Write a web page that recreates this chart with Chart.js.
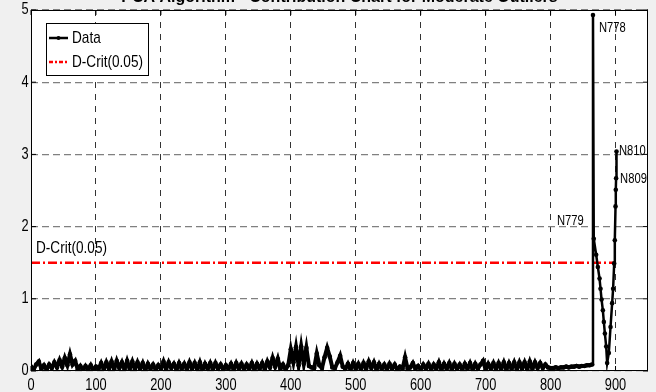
<!DOCTYPE html>
<html>
<head>
<meta charset="utf-8">
<title>PCA Algorithm - Contribution Chart for Moderate Outliers</title>
<style>
  html, body { margin: 0; padding: 0; background: #f0f0f0; }
  #wrap { width: 656px; height: 392px; position: relative; }
  canvas { display: block; }
</style>
<script src="https://cdn.jsdelivr.net/npm/chart.js@4.4.0/dist/chart.umd.min.js"></script>
</head>
<body>
<div id="wrap"><canvas id="chart" width="656" height="392"></canvas></div>
<script>
// Contribution values of the in-control observations, sampled every 4 observations (x = 0, 4, 8, ... 864)
const lowStep = 4;
const lowValues = [
  0.06, 0.02, 0.09, 0.13, 0.03, 0.08, 0.02, 0.09, 0.04, 0.12,
  0.05, 0.15, 0.06, 0.18, 0.08, 0.23, 0.09, 0.14, 0.02, 0.07,
  0.01, 0.07, 0.02, 0.08, 0.01, 0.06, 0.03, 0.11, 0.02, 0.12,
  0.03, 0.13, 0.02, 0.14, 0.04, 0.12, 0.02, 0.14, 0.03, 0.13,
  0.02, 0.12, 0.03, 0.11, 0.01, 0.10, 0.03, 0.09, 0.02, 0.08,
  0.03, 0.13, 0.02, 0.12, 0.04, 0.10, 0.02, 0.11, 0.03, 0.10,
  0.02, 0.12, 0.03, 0.11, 0.02, 0.12, 0.01, 0.10, 0.03, 0.11,
  0.02, 0.11, 0.03, 0.09, 0.02, 0.08, 0.03, 0.10, 0.02, 0.11,
  0.03, 0.10, 0.02, 0.09, 0.03, 0.11, 0.02, 0.10, 0.03, 0.11,
  0.02, 0.13, 0.05, 0.18, 0.06, 0.17, 0.03, 0.09, 0.02, 0.08,
  0.30, 0.12, 0.33, 0.08, 0.34, 0.10, 0.32, 0.07, 0.05, 0.04,
  0.24, 0.08, 0.04, 0.19, 0.32, 0.20, 0.05, 0.04, 0.12, 0.21,
  0.06, 0.03, 0.10, 0.02, 0.11, 0.03, 0.10, 0.02, 0.11, 0.03,
  0.13, 0.04, 0.12, 0.02, 0.10, 0.03, 0.09, 0.02, 0.10, 0.03,
  0.09, 0.02, 0.06, 0.03, 0.19, 0.03, 0.05, 0.11, 0.03, 0.07,
  0.02, 0.09, 0.03, 0.10, 0.02, 0.09, 0.03, 0.12, 0.02, 0.10,
  0.03, 0.11, 0.02, 0.10, 0.03, 0.09, 0.02, 0.10, 0.03, 0.11,
  0.02, 0.10, 0.03, 0.09, 0.14, 0.02, 0.10, 0.03, 0.11, 0.02,
  0.11, 0.03, 0.12, 0.02, 0.11, 0.03, 0.12, 0.02, 0.12, 0.03,
  0.12, 0.02, 0.13, 0.03, 0.12, 0.04, 0.11, 0.04, 0.09, 0.05,
  0.04, 0.04, 0.05, 0.04, 0.05, 0.05, 0.06, 0.05, 0.06, 0.06,
  0.07, 0.06, 0.07, 0.07, 0.08, 0.08, 0.09
];

// Moderate outliers at the end of the record
const tailX = [
  865.3, 866.5, 870.2, 872.8, 875.4, 876.9, 878.5, 880.5, 882.0, 883.6, 885.6,
  887.1, 889.7, 892.3, 894.8, 896.3, 897.9, 898.9, 900.0, 900.4, 900.9, 901.5
];
const tailValues = [
  4.93, 1.83, 1.61, 1.44, 1.28, 1.14, 0.99, 0.84, 0.68, 0.52, 0.34,
  0.11, 0.25, 0.61, 0.94, 1.14, 1.49, 1.81, 2.28, 2.51, 2.67, 3.04
];
const tailNames = [
  'N778', 'N779', '', '', '', '', '', '', '', '', '',
  '', '', '', '', '', '', '', '', '', 'N809', 'N810'
];

// Critical limit
const critLabel = 'D-Crit(0.05)';
const critValue = 1.5;
const critRange = [0, 900];

// Axes
const xTicks = [0, 100, 200, 300, 400, 500, 600, 700, 800, 900];
const yTicks = [0, 1, 2, 3, 4, 5];
const xMax = 950;
const yMax = 5;

const titleText = 'PCA Algorithm - Contribution Chart for Moderate Outliers';

const SANS = "'Liberation Sans', Arial, sans-serif";
const NARROW = 0.8; // horizontal squeeze for the condensed annotation font

const dataPoints = lowValues.map((v, i) => ({ x: i * lowStep, y: v }))
  .concat(tailX.map((x, i) => ({ x: x, y: tailValues[i] })));
const critPoints = critRange.map(x => ({ x: x, y: critValue }));
const tailStart = lowValues.length;

// label placement relative to the marked point (pixels)
const labelStyle = {
  N778: { dx: 6, dy: 13, align: 'left' },
  N779: { dx: -10, dy: -18, align: 'right' },
  N809: { dx: 4, dy: 1, align: 'left' },
  N810: { dx: 2.5, dy: 0, align: 'left' }
};

// draws condensed text: the glyphs are squeezed horizontally around the anchor
function narrowText(ctx, text, x, y, size, align, baseline) {
  ctx.save();
  ctx.font = size + 'px ' + SANS;
  ctx.textAlign = align || 'left';
  ctx.textBaseline = baseline || 'middle';
  ctx.fillStyle = '#000';
  ctx.translate(x, y);
  ctx.scale(NARROW, 1);
  ctx.fillText(text, 0, 0);
  ctx.restore();
}

const decorations = {
  id: 'decorations',
  beforeDraw(chart) {
    const { ctx, chartArea: a, width, height } = chart;
    ctx.save();
    ctx.fillStyle = '#f0f0f0';
    ctx.fillRect(0, 0, width, height);
    ctx.fillStyle = '#ffffff';
    ctx.fillRect(a.left, a.top, a.right - a.left, a.bottom - a.top);
    ctx.restore();
  },
  afterDatasetsDraw(chart) {
    const { ctx, chartArea: a, scales } = chart;
    const xs = scales.x, ys = scales.y;
    ctx.save();

    // axes box
    ctx.strokeStyle = '#000';
    ctx.lineWidth = 1;
    ctx.setLineDash([]);
    ctx.strokeRect(Math.round(a.left) + 0.5, Math.round(a.top) + 0.5,
      Math.round(a.right - a.left) - 1, Math.round(a.bottom - a.top) - 1);

    // inward tick marks on all four sides
    const tl = 5;
    ctx.beginPath();
    xs.ticks.forEach(t => {
      const px = xs.getPixelForValue(t.value);
      ctx.moveTo(px, a.bottom); ctx.lineTo(px, a.bottom - tl);
      ctx.moveTo(px, a.top); ctx.lineTo(px, a.top + tl);
    });
    ys.ticks.forEach(t => {
      const py = ys.getPixelForValue(t.value);
      ctx.moveTo(a.left, py); ctx.lineTo(a.left + tl, py);
      ctx.moveTo(a.right, py); ctx.lineTo(a.right - tl, py);
    });
    ctx.stroke();

    // tick labels
    xs.ticks.forEach(t => {
      narrowText(ctx, String(t.value), xs.getPixelForValue(t.value), a.bottom + 14.5, 16, 'center', 'middle');
    });
    ys.ticks.forEach(t => {
      narrowText(ctx, String(t.value), a.left - 2.5, ys.getPixelForValue(t.value), 16, 'right', 'middle');
    });

    // names of the marked outliers
    const meta = chart.getDatasetMeta(0);
    tailNames.forEach((name, i) => {
      if (!name) return;
      const el = meta.data[tailStart + i];
      const st = labelStyle[name];
      narrowText(ctx, name, el.x + st.dx, el.y + st.dy, 14, st.align, 'middle');
    });

    // critical limit caption
    narrowText(ctx, critLabel, xs.getPixelForValue(critRange[0]) + 5, ys.getPixelForValue(critValue) - 14, 17, 'left', 'middle');

    // legend
    const bx = a.left + 15, by = a.top + 13, bw = 102, bh = 52;
    ctx.fillStyle = '#fff';
    ctx.fillRect(bx, by, bw, bh);
    ctx.strokeStyle = '#000';
    ctx.lineWidth = 1;
    ctx.strokeRect(bx + 0.5, by + 0.5, bw, bh);
    chart.data.datasets.forEach((ds, i) => {
      const ry = by + 15 + i * 24;
      ctx.save();
      ctx.strokeStyle = ds.borderColor;
      ctx.lineWidth = 2.5;
      ctx.setLineDash(ds.legendDash || []);
      ctx.beginPath();
      ctx.moveTo(bx + 3, ry);
      ctx.lineTo(bx + 22, ry);
      ctx.stroke();
      if (ds.pointRadius > 0) {
        ctx.fillStyle = ds.borderColor;
        ctx.beginPath();
        ctx.arc(bx + 12.5, ry, 2, 0, Math.PI * 2);
        ctx.fill();
      }
      ctx.restore();
      narrowText(ctx, ds.label, bx + 26, ry, 17, 'left', 'middle');
    });

    // title (runs off the top edge of the figure)
    ctx.font = 'bold 16px ' + SANS;
    ctx.textAlign = 'center';
    ctx.textBaseline = 'alphabetic';
    ctx.fillStyle = '#000';
    ctx.fillText(titleText, (a.left + a.right) / 2, 2);

    ctx.restore();
  }
};

new Chart(document.getElementById('chart'), {
  type: 'line',
  data: {
    datasets: [
      {
        label: 'Data',
        data: dataPoints,
        borderColor: '#000000',
        backgroundColor: '#000000',
        borderWidth: 2.5,
        // the densely sampled in-control stretch is stroked heavier
        segment: {
          borderWidth: c => (c.p1DataIndex < tailStart ? 4 : 2.5)
        },
        pointRadius: 2.3,
        pointBorderWidth: 0,
        pointBackgroundColor: '#000000',
        tension: 0,
        fill: false
      },
      {
        label: critLabel,
        data: critPoints,
        borderColor: '#ff0000',
        borderWidth: 2.5,
        borderDash: [9, 3, 2, 3],
        legendDash: [4, 2, 2, 2],
        pointRadius: 0,
        tension: 0,
        fill: false
      }
    ]
  },
  options: {
    responsive: false,
    animation: false,
    devicePixelRatio: 1,
    layout: { padding: { top: 10, right: 8, left: 0, bottom: 0 } },
    plugins: {
      legend: { display: false },
      tooltip: { enabled: false },
      title: { display: false }
    },
    scales: {
      x: {
        type: 'linear',
        min: 0,
        max: xMax,
        afterBuildTicks: s => { s.ticks = xTicks.map(v => ({ value: v })); },
        afterFit: s => { s.height = 21; },
        grid: { color: '#333333', lineWidth: 1, drawTicks: false },
        border: { display: false, dash: [6, 6] },
        ticks: { display: false }
      },
      y: {
        type: 'linear',
        min: 0,
        max: yMax,
        afterBuildTicks: s => { s.ticks = yTicks.map(v => ({ value: v })); },
        afterFit: s => { s.width = 31; },
        grid: { color: '#808080', lineWidth: 1.2, drawTicks: false },
        border: { display: false, dash: [7, 4] },
        ticks: { display: false }
      }
    }
  },
  plugins: [decorations]
});
</script>
</body>
</html>
